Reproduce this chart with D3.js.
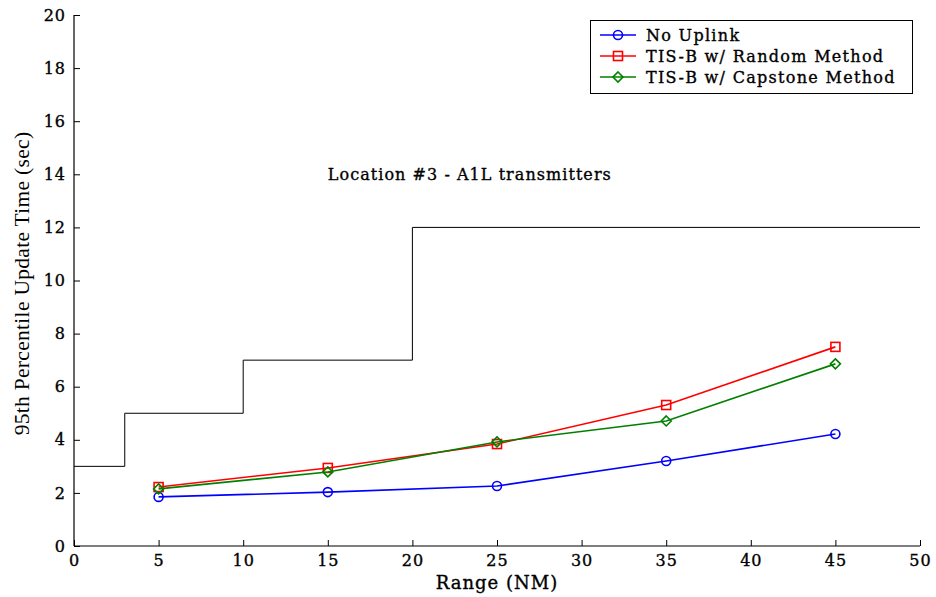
<!DOCTYPE html>
<html><head><meta charset="utf-8">
<script src="https://cdn.jsdelivr.net/npm/d3@7"></script>
<style>body{margin:0;background:#fff}text{font-family:"DejaVu Serif",serif;fill:#000}</style>
</head><body><svg id="c" width="936" height="597"></svg>
<script>
const ranges = [5, 15, 25, 35, 45];
const noUplink = [1.85, 2.03, 2.26, 3.2, 4.22];
const randomMethod = [2.22, 2.94, 3.84, 5.31, 7.5];
const capstoneMethod = [2.15, 2.79, 3.92, 4.71, 6.86];
const reqX = [0, 3, 3, 10, 10, 20, 20, 50];
const reqY = [3, 3, 5, 5, 7, 7, 12, 12];
const xTicks = [0, 5, 10, 15, 20, 25, 30, 35, 40, 45, 50];
const yTicks = [0, 2, 4, 6, 8, 10, 12, 14, 16, 18, 20];
const seriesNames = ["No Uplink", "TIS-B w/ Random Method", "TIS-B w/ Capstone Method"];
const seriesColors = ["#0000ff", "#ff0000", "#008000"];
const seriesMarkers = ["circle", "square", "diamond"];

const svg = d3.select("#c");
const x = d3.scaleLinear().domain([0, 50]).range([74, 920]);
const y = d3.scaleLinear().domain([0, 20]).range([546, 15]);
const FS = "16px";
const FONT = '"DejaVu Serif",serif';
function heavy(sel) { return sel.style("stroke", "#000").style("stroke-width", "0.35px"); }

// axes
const xa = svg.append("g").attr("transform", `translate(0,${y(0)})`)
  .call(d3.axisBottom(x).tickValues(xTicks).tickSize(-6).tickPadding(9).tickFormat(d3.format("d")));
const ya = svg.append("g").attr("transform", `translate(${x(0)},0)`)
  .call(d3.axisLeft(y).tickValues(yTicks).tickSize(-6).tickPadding(8).tickFormat(d3.format("d")));
[xa, ya].forEach(a => {
  a.selectAll("path.domain").attr("stroke", "#000").attr("stroke-width", 1.2);
  a.selectAll(".tick line").attr("stroke", "#000");
  heavy(a.selectAll("text").style("font-family", FONT).style("font-size", FS)
    .style("letter-spacing", "1px").attr("fill", "#000"));
});
xa.select("path.domain").attr("d", `M${x(0)},0H${x(50)}`);
ya.select("path.domain").attr("d", `M0,${y(0)}V${y(20)}`);

// step line
const req = reqX.map((v, i) => [v, reqY[i]]);
svg.append("path").attr("d", d3.line().x(d => x(d[0])).y(d => y(d[1]))(req))
  .attr("fill", "none").attr("stroke", "#000").attr("stroke-width", 1);

function marker(g, type, cx, cy, color) {
  if (type === "circle") g.append("circle").attr("cx", cx).attr("cy", cy).attr("r", 4.5);
  else if (type === "square") g.append("rect").attr("x", cx - 4.5).attr("y", cy - 4.5).attr("width", 9).attr("height", 9);
  else g.append("path").attr("d", `M${cx},${cy-5}L${cx+5},${cy}L${cx},${cy+5}L${cx-5},${cy}Z`);
  g.selectAll("*").attr("fill", "none").attr("stroke", color).attr("stroke-width", 1.6);
}

const allSeries = [noUplink, randomMethod, capstoneMethod];
allSeries.forEach((vals, i) => {
  const pts = ranges.map((r, j) => [r, vals[j]]);
  svg.append("path").attr("d", d3.line().x(d => x(d[0])).y(d => y(d[1]))(pts))
    .attr("fill", "none").attr("stroke", seriesColors[i]).attr("stroke-width", 1.6);
  pts.forEach(p => marker(svg.append("g"), seriesMarkers[i], x(p[0]), y(p[1]), seriesColors[i]));
});

// annotation
heavy(svg.append("text").attr("x", x(15)).attr("y", y(14)).attr("dy", "0.35em")
  .style("font-size", FS).style("letter-spacing", "1.05px")
  .text("Location #3 - A1L transmitters"));

// axis labels
heavy(svg.append("text").attr("x", x(25)).attr("y", 589).attr("text-anchor", "middle")
  .style("font-size", "18px").style("letter-spacing", "1px").text("Range (NM)"));
svg.append("text").attr("transform", `translate(29,${y(10) + 3}) rotate(-90)`).attr("text-anchor", "middle")
  .style("font-family", '"Liberation Serif",serif').style("font-size", "21.5px")
  .style("letter-spacing", "0.3px").text("95th Percentile Update Time (sec)");

// legend
const lg = svg.append("g");
lg.append("rect").attr("x", 590.5).attr("y", 20.5).attr("width", 322).attr("height", 73)
  .attr("fill", "#fff").attr("stroke", "#000").attr("stroke-width", 1);
seriesNames.forEach((n, i) => {
  const yy = 35 + i * 21;
  lg.append("line").attr("x1", 600).attr("x2", 636).attr("y1", yy).attr("y2", yy)
    .attr("stroke", seriesColors[i]).attr("stroke-width", 1.6);
  marker(lg.append("g"), seriesMarkers[i], 618, yy, seriesColors[i]);
  heavy(lg.append("text").attr("x", 646).attr("y", yy).attr("dy", "0.35em")
    .style("font-size", FS).style("letter-spacing", "1.3px").text(n));
});
</script></body></html>
